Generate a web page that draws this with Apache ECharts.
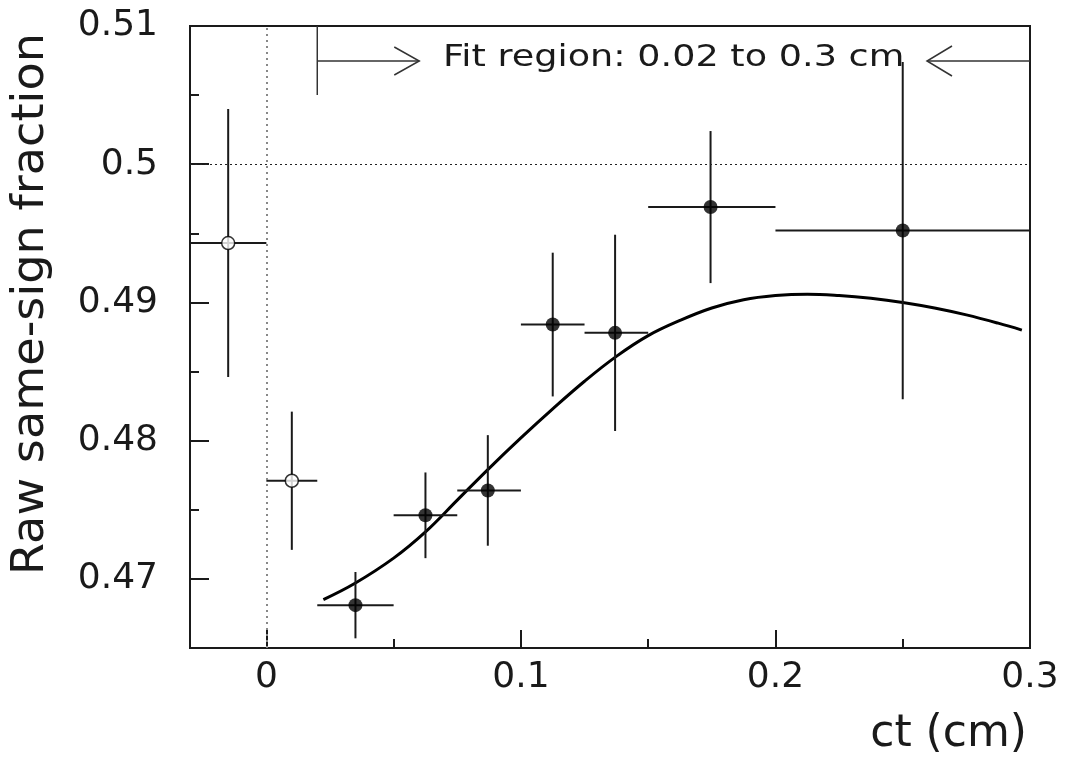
<!DOCTYPE html>
<html><head><meta charset="utf-8">
<script src="https://cdn.jsdelivr.net/npm/echarts@6/dist/echarts.min.js"></script>
<style>html,body{margin:0;padding:0;background:#fff}#c{width:1068px;height:759px}</style>
</head><body><div id="c"></div>
<script>
// ---- axis ticks ----
const xTicks = [0, 0.1, 0.2, 0.3];
const xMinorTicks = [0.05, 0.15, 0.25];
const yTicks = [0.47, 0.48, 0.49, 0.5, 0.51];
const yMinorTicks = [0.475, 0.485, 0.495, 0.505];

// ---- points inside fit region (filled) ----
const fitX    = [0.035, 0.0625, 0.087, 0.1125, 0.137, 0.1745, 0.25];
const fitY    = [0.4681, 0.4746, 0.4764, 0.4884, 0.4878, 0.4969, 0.4952];
const fitXLo  = [0.02, 0.05, 0.075, 0.1, 0.125, 0.15, 0.2];
const fitXHi  = [0.05, 0.075, 0.1, 0.125, 0.15, 0.2, 0.3];
const fitYErr = [0.0024, 0.0031, 0.0040, 0.0052, 0.0071, 0.0055, 0.0122];

// ---- points outside fit region (open) ----
const outX    = [-0.015, 0.01];
const outY    = [0.4943, 0.4771];
const outXLo  = [-0.03, 0];
const outXHi  = [0, 0.02];
const outYErr = [0.0097, 0.0050];

// ---- fit curve ----
const curveX = [0.0224, 0.035, 0.05, 0.0625, 0.075, 0.0875, 0.1, 0.1125, 0.125, 0.1375, 0.15, 0.1625, 0.175, 0.1875, 0.2, 0.2125, 0.225, 0.2375, 0.25, 0.2625, 0.275, 0.2875, 0.2968];
const curveY = [0.4685, 0.4697, 0.4715, 0.4734, 0.4757, 0.4780, 0.4802, 0.4823, 0.4843, 0.4861, 0.4876, 0.4887, 0.4896, 0.4902, 0.4905, 0.4906, 0.4905, 0.4903, 0.4900, 0.4896, 0.4891, 0.4885, 0.4880];

// ---- reference lines & annotation ----
const zeroLineX = 0;
const halfLineY = 0.5;
const fitRegion = [0.02, 0.3];
const fitLabel = 'Fit region: 0.02 to 0.3 cm';
const xTitle = 'ct (cm)';
const yTitle = 'Raw same-sign fraction';

const FONT = '"DejaVu Sans", "Liberation Sans", sans-serif';
const INK = '#1a1a1a';

function zip(a, b, c, d, e) { return a.map((v, i) => [v, b[i], c[i], d[i], e[i]]); }
function fmt(v) { return String(+(+v).toFixed(3)); }

function errRender(params, api) {
  const x = api.value(0), y = api.value(1), e = api.value(4);
  const l = api.coord([api.value(2), y]);
  const r = api.coord([api.value(3), y]);
  const t = api.coord([x, y + e]);
  const b = api.coord([x, y - e]);
  const st = { stroke: INK, lineWidth: 2 };
  return { type: 'group', children: [
    { type: 'line', shape: { x1: l[0], y1: l[1], x2: r[0], y2: r[1] }, style: st },
    { type: 'line', shape: { x1: t[0], y1: t[1], x2: b[0], y2: b[1] }, style: st }
  ]};
}

function fitRender(params, api) {
  const yTop = yTicks[yTicks.length - 1];
  const p0 = api.coord([api.value(0), yTop]);
  const p1 = api.coord([api.value(1), yTop]);
  const ay = p0[1] + 35;
  const st = { stroke: '#333', lineWidth: 1.5, fill: null };
  const lt = p0[0] + 102, rt = p1[0] - 103;
  return { type: 'group', children: [
    { type: 'line', shape: { x1: p0[0], y1: p0[1], x2: p0[0], y2: p0[1] + 69 }, style: st },
    { type: 'line', shape: { x1: p0[0], y1: ay, x2: lt, y2: ay }, style: st },
    { type: 'polyline', shape: { points: [[lt - 25, ay - 14], [lt, ay], [lt - 25, ay + 14]] }, style: st },
    { type: 'line', shape: { x1: p1[0], y1: ay, x2: rt, y2: ay }, style: st },
    { type: 'polyline', shape: { points: [[rt + 25, ay - 15], [rt, ay], [rt + 25, ay + 15]] }, style: st },
    { type: 'text', x: (p0[0] + p1[0]) / 2, y: ay - 3, scaleX: 1.22,
      style: { text: fitLabel, x: 0, y: 0, align: 'center', verticalAlign: 'middle',
               font: '30px ' + FONT, fill: INK } }
  ]};
}

const chart = echarts.init(document.getElementById('c'), null, { renderer: 'canvas' });
const xRange = { min: -0.03, max: 0.3 };
const yRange = { min: 0.465, max: 0.51 };

chart.setOption({
  animation: false,
  backgroundColor: '#fff',
  grid: { left: 190, right: 38, top: 26, bottom: 111, show: true, borderColor: INK, borderWidth: 2,
          containLabel: false, outerBoundsMode: 'none' },
  xAxis: [
    { type: 'value', min: xRange.min, max: xRange.max, position: 'bottom',
      axisLine: { show: true, onZero: false, lineStyle: { color: INK, width: 2 } },
      axisTick: { show: true, inside: true, length: 18, customValues: xTicks, lineStyle: { color: INK, width: 2 } },
      axisLabel: { show: true, customValues: xTicks, formatter: fmt, fontSize: 36, fontFamily: FONT, color: INK, margin: 12 },
      splitLine: { show: false } },
    { type: 'value', min: xRange.min, max: xRange.max, position: 'bottom',
      axisLine: { show: false, onZero: false },
      axisTick: { show: true, inside: true, length: 9, customValues: xMinorTicks, lineStyle: { color: INK, width: 2 } },
      axisLabel: { show: false }, splitLine: { show: false } }
  ],
  yAxis: [
    { type: 'value', min: yRange.min, max: yRange.max, position: 'left',
      axisLine: { show: true, onZero: false, lineStyle: { color: INK, width: 2 } },
      axisTick: { show: true, inside: true, length: 19, customValues: yTicks, lineStyle: { color: INK, width: 2 } },
      axisLabel: { show: true, customValues: yTicks, formatter: fmt, fontSize: 36, fontFamily: FONT, color: INK, margin: 32 },
      splitLine: { show: false } },
    { type: 'value', min: yRange.min, max: yRange.max, position: 'left',
      axisLine: { show: false, onZero: false },
      axisTick: { show: true, inside: true, length: 9, customValues: yMinorTicks, lineStyle: { color: INK, width: 2 } },
      axisLabel: { show: false }, splitLine: { show: false } }
  ],
  graphic: [
    { type: 'text', x: 32, y: 304, rotation: Math.PI / 2, scaleX: 1.05,
      style: { text: yTitle, align: 'center', verticalAlign: 'middle', font: '44px ' + FONT, fill: INK } },
    { type: 'text', x: 1027, y: 735,
      style: { text: xTitle, align: 'right', verticalAlign: 'middle', font: '44px ' + FONT, fill: INK } }
  ],
  series: [
    { type: 'line', name: 'fit', xAxisIndex: 0, yAxisIndex: 0,
      data: curveX.map((x, i) => [x, curveY[i]]), smooth: 0.4, showSymbol: false,
      lineStyle: { color: '#000', width: 3 }, z: 3,
      markLine: { silent: true, symbol: 'none', label: { show: false },
        data: [
          { xAxis: zeroLineX, lineStyle: { color: '#888', type: [2, 4], width: 2 } },
          { yAxis: halfLineY, lineStyle: { color: '#222', type: [2, 3], width: 1 } }
        ] } },
    { type: 'custom', name: 'errFit', xAxisIndex: 0, yAxisIndex: 0, renderItem: errRender,
      data: zip(fitX, fitY, fitXLo, fitXHi, fitYErr), z: 4 },
    { type: 'custom', name: 'errOut', xAxisIndex: 0, yAxisIndex: 0, renderItem: errRender,
      data: zip(outX, outY, outXLo, outXHi, outYErr), z: 4 },
    { type: 'scatter', name: 'inFit', xAxisIndex: 0, yAxisIndex: 0,
      data: fitX.map((x, i) => [x, fitY[i]]), symbol: 'circle', symbolSize: 14,
      itemStyle: { color: '#000' }, z: 6 },
    { type: 'scatter', name: 'outFit', xAxisIndex: 0, yAxisIndex: 0,
      data: outX.map((x, i) => [x, outY[i]]), symbol: 'circle', symbolSize: 13,
      itemStyle: { color: '#fff', borderColor: '#000', borderWidth: 1.5 }, z: 6 },
    { type: 'custom', name: 'fitRegion', xAxisIndex: 0, yAxisIndex: 0, renderItem: fitRender,
      data: [[fitRegion[0], fitRegion[1]]], z: 5, clip: false }
  ]
});
</script></body></html>
